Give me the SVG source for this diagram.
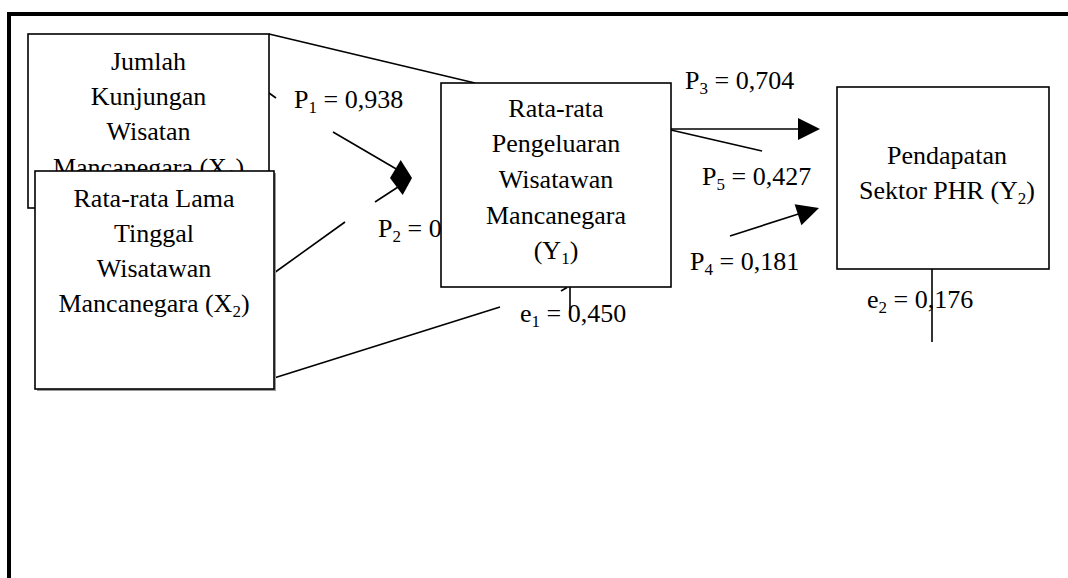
<svg xmlns="http://www.w3.org/2000/svg" width="1068" height="578" viewBox="0 0 1068 578">
<style>
  .box { fill: #fff; stroke: #000; stroke-width: 1.6; }
  .t { font-family: "Liberation Serif", "Times New Roman", serif; font-size: 26px; fill: #000; }
  .c { text-anchor: middle; }
  .ln { stroke: #000; stroke-width: 1.6; fill: none; }
  .ah { fill: #000; stroke: none; }
  .frame { stroke: #000; stroke-width: 4; fill: none; }
</style>
<rect width="1068" height="578" fill="#fff"/>
<g id="frame">
  <path class="frame" d="M9 578 V14 H1070"/>
</g>
<g id="connectors">
  <line class="ln" x1="269" y1="34" x2="475" y2="83"/>
  <line class="ln" x1="269" y1="93" x2="276" y2="98"/>
  <line class="ln" x1="333" y1="132" x2="398" y2="170"/>
  <polygon class="ah" points="412,178 400.7,160 390,178"/>
  <line class="ln" x1="274" y1="273" x2="345" y2="222"/>
  <line class="ln" x1="375" y1="202" x2="398" y2="187"/>
  <polygon class="ah" points="412,178 390,178 402.7,195"/>
  <line class="ln" x1="274" y1="378" x2="500" y2="307"/>
  <line class="ln" x1="561" y1="291" x2="567" y2="287.5"/>
  <line class="ln" x1="570" y1="287" x2="570" y2="313"/>
  <line class="ln" x1="671" y1="129" x2="800" y2="129"/>
  <polygon class="ah" points="820,129 798,118 798,140"/>
  <line class="ln" x1="671" y1="130" x2="762" y2="151"/>
  <line class="ln" x1="730" y1="236" x2="800" y2="213.5"/>
  <polygon class="ah" points="819,208 794.6,204.2 801.4,225.2"/>
  <line class="ln" x1="932" y1="269" x2="932" y2="342"/>
</g>
<g id="labels">
  <text class="t" x="294" y="108">P<tspan font-size="17" dy="5">1</tspan><tspan dy="-5"> = 0,938</tspan></text>
  <text class="t" x="378" y="237">P<tspan font-size="17" dy="5">2</tspan><tspan dy="-5"> = 0</tspan></text>
  <text class="t" x="685" y="89">P<tspan font-size="17" dy="5">3</tspan><tspan dy="-5"> = 0,704</tspan></text>
  <text class="t" x="702" y="185">P<tspan font-size="17" dy="5">5</tspan><tspan dy="-5"> = 0,427</tspan></text>
  <text class="t" x="690" y="270">P<tspan font-size="17" dy="5">4</tspan><tspan dy="-5"> = 0,181</tspan></text>
  <text class="t" x="520" y="322">e<tspan font-size="17" dy="5">1</tspan><tspan dy="-5"> = 0,450</tspan></text>
  <text class="t" x="867" y="308">e<tspan font-size="17" dy="5">2</tspan><tspan dy="-5"> = 0,176</tspan></text>
</g>
<g id="node-x1">
  <rect class="box" x="28" y="34" width="241" height="174"/>
  <text class="t c" x="148.5" y="70">Jumlah</text>
  <text class="t c" x="148.5" y="105">Kunjungan</text>
  <text class="t c" x="148.5" y="140">Wisatan</text>
  <text class="t c" x="148.5" y="176">Mancanegara (X<tspan font-size="17" dy="5">1</tspan><tspan dy="-5">)</tspan></text>
</g>
<g id="node-x2">
  <rect x="37" y="173" width="239" height="218" fill="#999"/>
  <rect class="box" x="35" y="171" width="239" height="218"/>
  <text class="t c" x="154" y="207">Rata-rata Lama</text>
  <text class="t c" x="154" y="242">Tinggal</text>
  <text class="t c" x="154" y="277">Wisatawan</text>
  <text class="t c" x="154" y="312">Mancanegara (X<tspan font-size="17" dy="5">2</tspan><tspan dy="-5">)</tspan></text>
</g>
<g id="node-y1">
  <rect class="box" x="441" y="83" width="230" height="204"/>
  <text class="t c" x="556" y="117">Rata-rata</text>
  <text class="t c" x="556" y="152">Pengeluaran</text>
  <text class="t c" x="556" y="188">Wisatawan</text>
  <text class="t c" x="556" y="224">Mancanegara</text>
  <text class="t c" x="556" y="259">(Y<tspan font-size="17" dy="5">1</tspan><tspan dy="-5">)</tspan></text>
</g>
<g id="node-y2">
  <rect class="box" x="837" y="87" width="212" height="182"/>
  <text class="t c" x="947" y="164">Pendapatan</text>
  <text class="t c" x="947" y="199">Sektor PHR (Y<tspan font-size="17" dy="5">2</tspan><tspan dy="-5">)</tspan></text>
</g>
</svg>
